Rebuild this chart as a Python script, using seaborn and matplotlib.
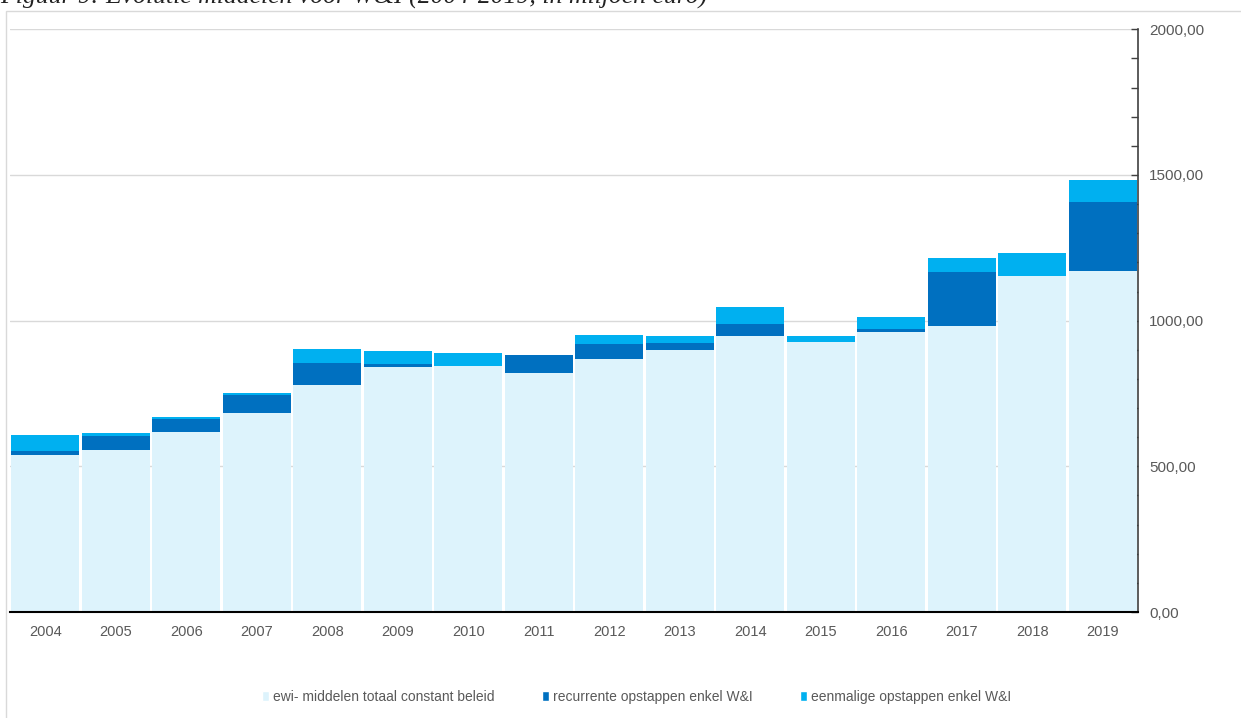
import numpy as np
import pandas as pd
import matplotlib
matplotlib.use('Agg')
import matplotlib.pyplot as plt
import matplotlib.patches as mpatches
from matplotlib.ticker import MultipleLocator, FuncFormatter
import seaborn as sns

# ── Data (miljoen euro) ─────────────────────────────────────────────────────────
years     = [str(y) for y in range(2004, 2020)]
basis     = [539, 557, 617, 683, 779, 840, 845, 820, 867, 899, 946, 928, 961, 982, 1154, 1170]
recurrent = [14, 47, 45, 61, 75, 12, 0, 61, 52, 24, 44, 0, 10, 186, 0, 238]
eenmalig  = [55, 9, 8, 7, 50, 43, 45, 0, 32, 24, 56, 18, 42, 46, 79, 75]

LABELS = ['ewi- middelen totaal constant beleid',
          'recurrente opstappen enkel W&I',
          'eenmalige opstappen enkel W&I']
COLORS = ['#DDF3FC', '#0070C0', '#00B0F0']

# ── Style ───────────────────────────────────────────────────────────────────────
sns.set_theme(style='white')
plt.rcParams['font.family'] = ['Liberation Sans', 'DejaVu Sans']

df = pd.DataFrame({'jaar': years, 'basis': basis,
                   'recurrent': recurrent, 'eenmalig': eenmalig})
df['tot_rec'] = df['basis'] + df['recurrent']
df['totaal'] = df['tot_rec'] + df['eenmalig']

fig = plt.figure(figsize=(12.41, 7.18), dpi=100)
ax = fig.add_axes([10 / 1241, 1 - 612 / 718, 1128 / 1241, (612 - 29.3) / 718])

# stacked look: draw cumulative totals from tallest to lowest
for col, color in zip(['totaal', 'tot_rec', 'basis'], [COLORS[2], COLORS[1], COLORS[0]]):
    sns.barplot(data=df, x='jaar', y=col, color=color, width=0.97,
                linewidth=0, saturation=1, ax=ax, zorder=3)

ax.set_xlim(-0.5, len(years) - 0.5)
ax.set_ylim(0, 2000)
ax.yaxis.tick_right()
ax.yaxis.set_major_locator(MultipleLocator(500))
ax.yaxis.set_minor_locator(MultipleLocator(100))
ax.yaxis.set_major_formatter(FuncFormatter(lambda v, p: f'{v:.2f}'.replace('.', ',')))
ax.tick_params(axis='y', which='both', direction='in', length=5, width=1,
               color='#404040', right=True, left=False, labelsize=11,
               labelcolor='#595959', pad=8)
ax.tick_params(axis='x', length=0, labelsize=10.5, labelcolor='#595959', pad=9)
ax.grid(axis='y', which='major', color='#D9D9D9', linewidth=1, zorder=0)
ax.set_axisbelow(True)
ax.set_xlabel('')
ax.set_ylabel('')

for s in ['left', 'top']:
    ax.spines[s].set_visible(False)
ax.spines['right'].set_color('#404040')
ax.spines['right'].set_linewidth(1.2)
ax.spines['bottom'].set_color('black')
ax.spines['bottom'].set_linewidth(1.5)
ax.spines['right'].set_zorder(5)
ax.spines['bottom'].set_zorder(5)

# chart area border (light gray), partly outside the picture
fig.patches.append(mpatches.Rectangle((6 / 1241, -0.05), 1.2, 1 - 11 / 718 + 0.05,
                                      transform=fig.transFigure, fill=False,
                                      edgecolor='#D9D9D9', linewidth=1))

# title, cut off at the top like in the source
fig.text(0.0, 1 - 4 / 718, 'Figuur 9: Evolutie middelen voor W&I (2004-2019, in miljoen euro)',
         family=['Liberation Serif', 'DejaVu Serif'], style='italic',
         fontsize=18.5, color='#222222', va='baseline', ha='left')

handles = [mpatches.Patch(facecolor=c, label=l) for c, l in zip(COLORS, LABELS)]
fig.legend(handles=handles, loc='center', bbox_to_anchor=(0.513, 1 - 697 / 718),
           ncol=3, frameon=False, fontsize=10, handlelength=0.5, handleheight=0.8,
           handletextpad=0.3, columnspacing=3.4, labelcolor='#595959')

fig.savefig('out.png', dpi=100)
